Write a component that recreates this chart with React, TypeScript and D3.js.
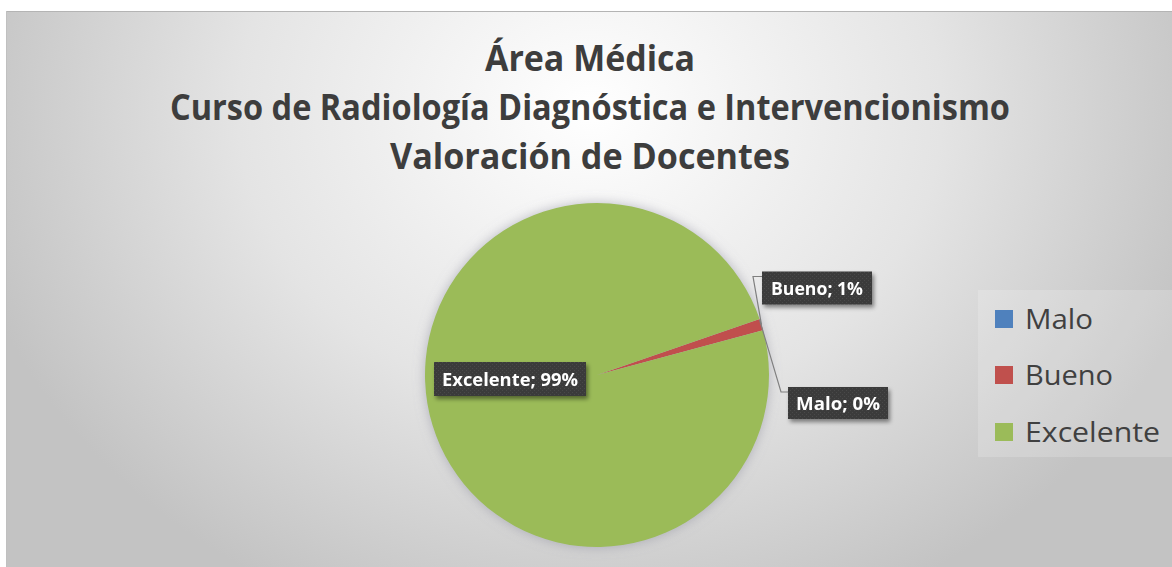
import React from "react";
import * as d3 from "d3";

const titleLines = [
  "Área Médica",
  "Curso de Radiología Diagnóstica e Intervencionismo",
  "Valoración de Docentes",
];
const categories = ["Malo", "Bueno", "Excelente"];
const values = [0, 1, 90];
const colors = ["#4F81BD", "#C0504D", "#9BBB59"];

const W = 1172;
const H = 567;
const cx = 597;
const cy = 375;
const R = 172;
const startDeg = 71;

// label box layout (center x, center y, width, height, text width)
const labelBoxes = [
  { x: 838, y: 403, w: 100, h: 32, tw: 84 },
  { x: 817, y: 288, w: 110, h: 33, tw: 92 },
  { x: 510, y: 379, w: 152, h: 34, tw: 136 },
];
const legendTextWidths = [68, 88, 135];

export default function App() {
  const total = d3.sum(values);
  const a0 = (startDeg * Math.PI) / 180;
  const pie = d3
    .pie<number>()
    .sort(null)
    .startAngle(a0)
    .endAngle(a0 + 2 * Math.PI)(values);
  const arc = d3.arc<d3.PieArcDatum<number>>().innerRadius(0).outerRadius(R);
  const fmt = (v: number) => `${Math.round((v / total) * 100)}%`;
  const edge = (d: d3.PieArcDatum<number>) => {
    const m = (d.startAngle + d.endAngle) / 2;
    return [cx + R * Math.sin(m), cy - R * Math.cos(m)];
  };
  const font = "Open Sans, Lato, sans-serif";
  const titleWidths = [210, 840, 400];
  const titleBase = [71, 120, 169];

  const legendY = [319, 375, 432];

  return (
    <svg width={W} height={H} style={{ position: "absolute", left: 0, top: 0 }}>
      <defs>
        <radialGradient id="bg" cx="590" cy="110" r="640" gradientUnits="userSpaceOnUse" gradientTransform="translate(590 110) scale(1 0.85) translate(-590 -110)">
          <stop offset="0" stopColor="#ffffff" />
          <stop offset="0.55" stopColor="#e4e4e4" />
          <stop offset="1" stopColor="#c3c3c3" />
        </radialGradient>
        <filter id="pieShadow" x="-20%" y="-20%" width="140%" height="140%">
          <feGaussianBlur in="SourceAlpha" stdDeviation="6" />
          <feOffset dx="0" dy="0" result="b" />
          <feFlood floodColor="#8a8a9a" floodOpacity="0.55" />
          <feComposite in2="b" operator="in" />
          <feMerge>
            <feMergeNode />
            <feMergeNode in="SourceGraphic" />
          </feMerge>
        </filter>
        <filter id="boxShadow" x="-20%" y="-30%" width="150%" height="170%">
          <feGaussianBlur in="SourceAlpha" stdDeviation="2" />
          <feOffset dx="2" dy="3" result="b" />
          <feFlood floodColor="#000" floodOpacity="0.45" />
          <feComposite in2="b" operator="in" />
          <feMerge>
            <feMergeNode />
            <feMergeNode in="SourceGraphic" />
          </feMerge>
        </filter>
        <pattern id="dots" width="4" height="4" patternUnits="userSpaceOnUse">
          <rect width="4" height="4" fill="#3a3a3a" />
          <rect x="0" y="0" width="1" height="1" fill="#4a4a4a" />
          <rect x="2" y="2" width="1" height="1" fill="#4a4a4a" />
        </pattern>
      </defs>
      <rect x={0} y={0} width={W} height={H} fill="#ffffff" />
      <rect x={6} y={11} width={W - 6} height={H - 11} fill="url(#bg)" />
      <line x1={6} y1={11.5} x2={W} y2={11.5} stroke="#b4b4b4" strokeWidth={1} />
      <line x1={6.5} y1={11} x2={6.5} y2={H} stroke="#c0c0c0" strokeWidth={1} />

      {titleLines.map((t, i) => (
        <text
          key={i}
          x={590}
          y={titleBase[i]}
          textAnchor="middle"
          fontFamily={font}
          fontWeight={700}
          fontSize={35}
          fill="#3d3d3d"
          textLength={titleWidths[i]}
          lengthAdjust="spacingAndGlyphs"
        >
          {t}
        </text>
      ))}

      <g filter="url(#pieShadow)">
        {pie.map((d, i) => (
          <path key={i} d={arc(d) || ""} transform={`translate(${cx},${cy})`} fill={colors[i]} />
        ))}
      </g>

      {/* leader lines */}
      {(() => {
        const [bx, by] = edge(pie[1]);
        const [mx, my] = edge(pie[0]);
        const b = labelBoxes[1];
        const m = labelBoxes[0];
        return (
          <g stroke="#7f7f7f" strokeWidth={1.2} fill="none">
            <polyline points={`${bx},${by} ${b.x - b.w / 2 - 9},${b.y - b.h / 2 + 5} ${b.x - b.w / 2},${b.y - b.h / 2 + 5}`} />
            <polyline points={`${mx},${my + 1} ${m.x - m.w / 2 - 7},${m.y - m.h / 2 + 5} ${m.x - m.w / 2},${m.y - m.h / 2 + 5}`} />
          </g>
        );
      })()}

      {pie.map((d, i) => {
        const b = labelBoxes[i];
        return (
          <g key={i} filter="url(#boxShadow)">
            <rect x={b.x - b.w / 2} y={b.y - b.h / 2} width={b.w} height={b.h} fill="url(#dots)" />
            <text
              x={b.x}
              y={b.y + 6.5}
              textAnchor="middle"
              fontFamily={font}
              fontWeight={700}
              fontSize={18}
              fill="#ffffff"
              textLength={b.tw}
              lengthAdjust="spacingAndGlyphs"
            >
              {`${categories[i]}; ${fmt(d.data)}`}
            </text>
          </g>
        );
      })}

      <rect x={978} y={290} width={W - 978} height={167} fill="#ffffff" opacity={0.18} />
      {categories.map((c, i) => (
        <g key={c}>
          <rect x={995} y={legendY[i] - 9} width={18} height={18} fill={colors[i]} />
          <text
            x={1025}
            y={legendY[i] + 10}
            fontFamily={font}
            fontSize={28}
            fill="#404040"
            textLength={legendTextWidths[i]}
            lengthAdjust="spacingAndGlyphs"
          >
            {c}
          </text>
        </g>
      ))}
    </svg>
  );
}
